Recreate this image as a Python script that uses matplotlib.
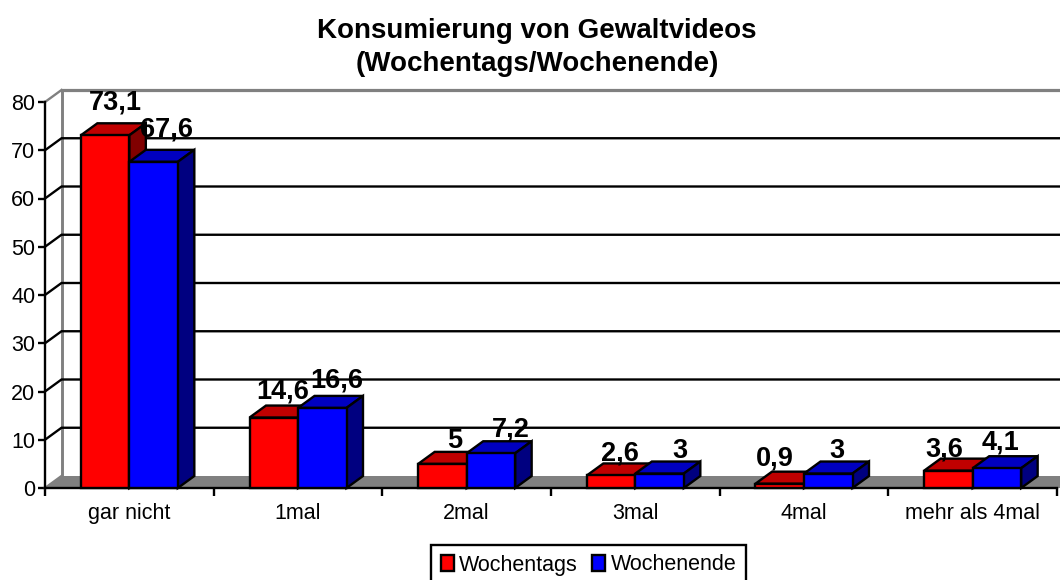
import matplotlib
matplotlib.use("Agg")
import matplotlib.pyplot as plt
from matplotlib.patches import Patch, Polygon

plt.rcParams["font.family"] = ["Liberation Sans", "DejaVu Sans"]

categories = ["gar nicht", "1mal", "2mal", "3mal", "4mal", "mehr als 4mal"]
wochentags = [73.1, 14.6, 5, 2.6, 0.9, 3.6]
wochenende = [67.6, 16.6, 7.2, 3, 3, 4.1]
y_ticks = [0, 10, 20, 30, 40, 50, 60, 70, 80]

# hand nudges for the value labels, in px from the bar's front top edge
nudge_red = [(10, 26), (9, 19), (12, 16), (9, 15), (-5, 18), (-4, 14)]
nudge_blue = [(12.5, 25), (14, 20), (20, 17), (20, 16), (9, 16), (4, 19)]

W, H = 1060, 580
LEFT, RIGHT, BOTTOM, TOP = 45, 1057, 488, 102
LINE = 1.7  # a bit over 2 px

fig = plt.figure(figsize=(W / 100, H / 100), dpi=100, facecolor="white")
ax = fig.add_axes([LEFT / W, 1 - BOTTOM / H, (RIGHT - LEFT) / W, (BOTTOM - TOP) / H])
ax.set_xlim(0, len(categories))
ax.set_ylim(0, 80)
ax.patch.set_visible(False)

# depth of the fake 3d box, in data units
px_x = len(categories) / (RIGHT - LEFT)
px_y = 80 / (BOTTOM - TOP)
dx = 16.5 * px_x
dy = 12 * px_y
bar_w = 48.5 * px_x
x_far = 1.01 * len(categories) + dx

# floor and back wall
ax.add_patch(Polygon([(0, 0), (x_far, 0), (x_far, dy), (dx, dy)], fc="#808080", ec="none", zorder=1, clip_on=False))
ax.plot([dx, dx], [dy, 80 + dy], color="#808080", lw=LINE + 0.4, zorder=2, clip_on=False)
ax.plot([dx, x_far], [80 + dy, 80 + dy], color="#808080", lw=LINE + 0.6, zorder=2, clip_on=False)
ax.plot([0, dx], [80, 80 + dy], color="#808080", lw=LINE, zorder=2, clip_on=False)
ax.plot([0, dx], [0, dy], color="#808080", lw=LINE, zorder=2, clip_on=False)

# grid lines run along the side wall and then the back wall
for v in y_ticks[1:-1]:
    ax.plot([0, dx, x_far], [v, v + dy, v + dy], color="black", lw=LINE, zorder=2,
            clip_on=False, solid_joinstyle="miter")
ax.plot([0, 0], [0, 80], color="black", lw=LINE, zorder=3, clip_on=False)
ax.plot([0, len(categories)], [0, 0], color="black", lw=LINE, zorder=3, clip_on=False)


def draw_bar(x, value, front, top, side, z):
    ax.bar(x, value, width=bar_w, align="edge", color=front, edgecolor="black", linewidth=LINE,
           zorder=z + 0.2, clip_on=False)
    ax.add_patch(Polygon([(x, value), (x + bar_w, value), (x + bar_w + dx, value + dy), (x + dx, value + dy)],
                         fc=top, ec="black", lw=LINE, zorder=z, clip_on=False, joinstyle="miter"))
    ax.add_patch(Polygon([(x + bar_w, 0), (x + bar_w + dx, dy), (x + bar_w + dx, value + dy), (x + bar_w, value)],
                         fc=side, ec="black", lw=LINE, zorder=z, clip_on=False, joinstyle="miter"))


for i in range(len(categories)):
    z = 4 + i
    draw_bar(i + 0.5 - bar_w, wochentags[i], "#FF0000", "#C00000", "#800000", z)
    draw_bar(i + 0.5, wochenende[i], "#0000FF", "#0000C0", "#000080", z + 0.4)

for i in range(len(categories)):
    for x, value, off in [(i + 0.5 - bar_w / 2, wochentags[i], nudge_red[i]),
                          (i + 0.5 + bar_w / 2, wochenende[i], nudge_blue[i])]:
        label = f"{value:g}".replace(".", ",")
        ax.annotate(label, (x, value), xytext=(off[0] * 0.72, off[1] * 0.72), textcoords="offset points",
                    ha="center", va="baseline", fontsize=19.5, fontweight="bold", color="black", zorder=20)

for s in ax.spines.values():
    s.set_visible(False)
ax.set_yticks(y_ticks)
ax.tick_params(axis="y", length=5, width=LINE, labelsize=15.5, pad=2, color="black")
ax.set_xticks(range(len(categories) + 1))
ax.set_xticklabels([])
ax.set_xticks([i + 0.5 for i in range(len(categories))], labels=categories, minor=True)
ax.tick_params(axis="x", which="major", length=6, width=LINE, color="black")
ax.tick_params(axis="x", which="minor", length=0, labelsize=15.5, pad=11)

fig.text(537 / W, 1 - 38 / H, "Konsumierung von Gewaltvideos", ha="center", va="baseline",
         fontsize=20, fontweight="bold")
fig.text(537 / W, 1 - 71 / H, "(Wochentags/Wochenende)", ha="center", va="baseline",
         fontsize=20, fontweight="bold")

handles = [Patch(fc="#FF0000", ec="black", lw=LINE, label="Wochentags"),
           Patch(fc="#0000FF", ec="black", lw=LINE, label="Wochenende")]
leg = fig.legend(handles=handles, loc="center", bbox_to_anchor=(588.5 / W, 1 - 565 / H), ncol=2,
                 fontsize=15.5, frameon=True, fancybox=False, edgecolor="black", framealpha=1,
                 handlelength=0.62, handleheight=0.75, handletextpad=0.25, columnspacing=0.65,
                 borderpad=0.42, borderaxespad=0)
leg.get_frame().set_linewidth(LINE)

fig.savefig("out.png", dpi=100, facecolor="white")
